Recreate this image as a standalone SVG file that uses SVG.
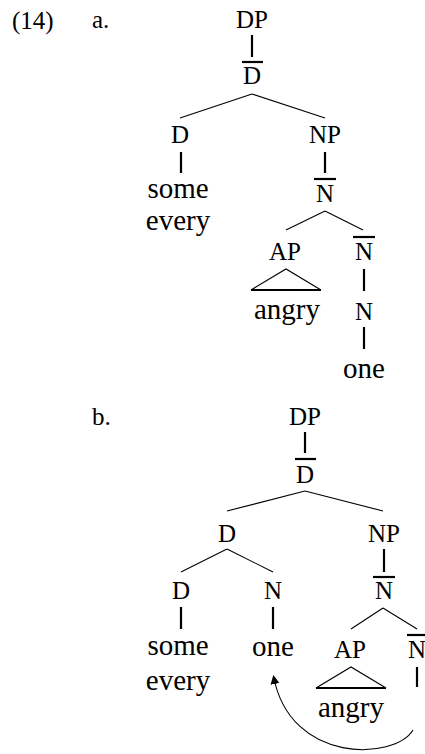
<svg xmlns="http://www.w3.org/2000/svg" width="425" height="754" viewBox="0 0 425 754">
<defs>
<style>
.lab{font-family:"Liberation Serif","DejaVu Serif",serif;font-size:25px;fill:#000;text-anchor:middle}
.wrd{font-family:"Liberation Serif","DejaVu Serif",serif;font-size:29px;fill:#000;text-anchor:middle}
.num{font-family:"Liberation Serif","DejaVu Serif",serif;font-size:25px;fill:#000}
.thin{stroke:#000;stroke-width:1.1;fill:none}
.thick{stroke:#000;stroke-width:2.2;fill:none}
</style>
<marker id="ah" viewBox="0 0 10 10" refX="9" refY="5" markerWidth="9" markerHeight="9" markerUnits="userSpaceOnUse" orient="auto">
<path d="M0,0 L10,5 L0,10 z" fill="#000"/>
</marker>
</defs>
<rect width="425" height="754" fill="#fff"/>
<text class="num" x="12" y="29">(14)</text>
<text class="num" x="92" y="28">a.</text>
<text class="num" x="92" y="425">b.</text>

<g id="connectors">
<line class="thick" x1="252" y1="35" x2="252" y2="57"/>
<line class="thin" x1="252" y1="94" x2="180" y2="118"/>
<line class="thin" x1="252" y1="94" x2="325" y2="118"/>
<line class="thick" x1="181" y1="152" x2="181" y2="173"/>
<line class="thick" x1="325" y1="152" x2="325" y2="173"/>
<line class="thin" x1="325" y1="211" x2="286" y2="230"/>
<line class="thin" x1="325" y1="211" x2="363" y2="230"/>
<path class="thin" d="M251,290 L286,269 L321,290"/>
<line class="thick" x1="251" y1="290" x2="321" y2="290"/>
<line class="thick" x1="364" y1="269" x2="364" y2="291"/>
<line class="thick" x1="364" y1="327" x2="364" y2="349"/>
<line class="thick" x1="305" y1="432" x2="305" y2="453"/>
<line class="thin" x1="305" y1="491" x2="227" y2="511"/>
<line class="thin" x1="305" y1="491" x2="383" y2="511"/>
<line class="thin" x1="227" y1="549" x2="181" y2="572"/>
<line class="thin" x1="227" y1="549" x2="273" y2="572"/>
<line class="thick" x1="384" y1="549" x2="384" y2="572"/>
<line class="thick" x1="181" y1="607" x2="181" y2="629"/>
<line class="thick" x1="273" y1="607" x2="273" y2="629"/>
<line class="thin" x1="383" y1="608" x2="351" y2="629"/>
<line class="thin" x1="383" y1="608" x2="417" y2="629"/>
<path class="thin" d="M316,688 L351,667 L386,688"/>
<line class="thick" x1="316" y1="688" x2="386" y2="688"/>
<line class="thick" x1="417" y1="667" x2="417" y2="687"/>
<path class="thin" d="M413,730 C395,760 290,765 273.5,676" marker-end="url(#ah)"/>
</g>

<g id="a-DP"><text class="lab" x="252" y="28">DP</text></g>
<g id="a-Dbar"><line class="thick" x1="242" y1="62" x2="263" y2="62"/><text class="lab" x="252" y="84">D</text></g>
<g id="a-D"><text class="lab" x="180" y="143">D</text></g>
<g id="a-NP"><text class="lab" x="325" y="143">NP</text></g>
<g id="a-some"><text class="wrd" x="178" y="198">some</text><text class="wrd" x="178" y="230">every</text></g>
<g id="a-Nbar1"><line class="thick" x1="314" y1="179" x2="336" y2="179"/><text class="lab" x="325" y="202">N</text></g>
<g id="a-AP"><text class="lab" x="285" y="260">AP</text></g>
<g id="a-Nbar2"><line class="thick" x1="353" y1="237" x2="375" y2="237"/><text class="lab" x="364" y="260">N</text></g>
<g id="a-angry"><text class="wrd" x="287" y="319">angry</text></g>
<g id="a-N"><text class="lab" x="364" y="320">N</text></g>
<g id="a-one"><text class="wrd" x="364" y="378">one</text></g>

<g id="b-DP"><text class="lab" x="305" y="425">DP</text></g>
<g id="b-Dbar"><line class="thick" x1="295" y1="459" x2="316" y2="459"/><text class="lab" x="305" y="483">D</text></g>
<g id="b-D1"><text class="lab" x="227" y="542">D</text></g>
<g id="b-NP"><text class="lab" x="384" y="542">NP</text></g>
<g id="b-D2"><text class="lab" x="181" y="599">D</text></g>
<g id="b-N"><text class="lab" x="273" y="599">N</text></g>
<g id="b-Nbar1"><line class="thick" x1="373" y1="577" x2="395" y2="577"/><text class="lab" x="384" y="599">N</text></g>
<g id="b-some"><text class="wrd" x="178" y="655">some</text><text class="wrd" x="178" y="690">every</text></g>
<g id="b-one"><text class="wrd" x="273" y="656">one</text></g>
<g id="b-AP"><text class="lab" x="350" y="658">AP</text></g>
<g id="b-Nbar2"><line class="thick" x1="407" y1="635" x2="427" y2="635"/><text class="lab" x="417" y="658">N</text></g>
<g id="b-angry"><text class="wrd" x="351" y="717">angry</text></g>
</svg>
